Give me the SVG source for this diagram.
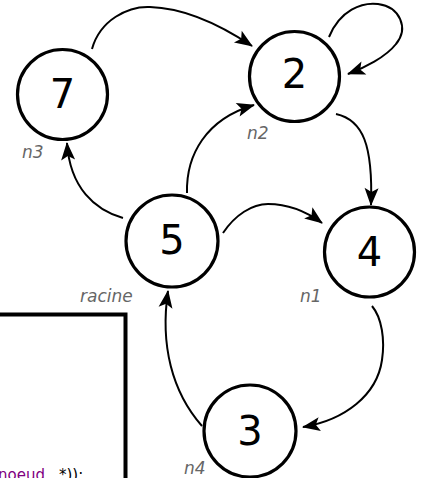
<svg xmlns="http://www.w3.org/2000/svg" width="421" height="478" viewBox="0 0 421 478">
<style>
.node circle{fill:#fff;stroke:#000;stroke-width:3.2}
.num{font-family:"DejaVu Sans",sans-serif;font-size:40px;fill:#000;text-anchor:middle}
.lbl{font-family:"DejaVu Sans",sans-serif;font-style:italic;font-size:17px;fill:#666}
.edge{fill:none;stroke:#000;stroke-width:2;marker-end:url(#arr)}
.code{font-family:"DejaVu Sans",sans-serif;font-size:15px}
</style>
<defs>
<marker id="arr" markerUnits="userSpaceOnUse" viewBox="-19 -9 21 18" markerWidth="21" markerHeight="18" refX="0" refY="0" orient="auto">
<path d="M1,0 L-17,-7 L-13,0 L-17,7 Z" fill="#000"/>
</marker>
</defs>
<g id="codebox">
<rect x="-10" y="314.5" width="135.5" height="200" fill="#fff" stroke="#000" stroke-width="4"/>
<text class="code" x="-2" y="480"><tspan fill="#800080">noeud</tspan><tspan x="59" fill="#000">*));</tspan></text>
</g>
<g id="connectors">
<path class="edge" d="M92,49 C100,20 128,6 150,7 C185,8 222,26 252,46"/>
<path class="edge" d="M329,37 C340,10 362,2 378,4 C400,7 409,28 396,44 C386,57 364,68 348,74"/>
<path class="edge" d="M336,114 C363,120 373,145 371,205"/>
<path class="edge" d="M187,193 C186,155 206,119 254,105"/>
<path class="edge" d="M123,218 C95,210 70,188 67,143"/>
<path class="edge" d="M223,233 C235,215 252,204 268,204 C289,204 307,212 322,223"/>
<path class="edge" d="M372,306 C382,318 385,340 382,360 C377,395 345,420 303,427"/>
<path class="edge" d="M202,426 C172,392 160,345 168,291"/>
</g>
<g id="node7" class="node"><circle cx="62.5" cy="94.5" r="45"/><text class="num" x="62.5" y="108">7</text><text class="lbl" x="22" y="158">n3</text></g>
<g id="node2" class="node"><circle cx="294.5" cy="76.5" r="45"/><text class="num" x="294.5" y="88">2</text><text class="lbl" x="247" y="139">n2</text></g>
<g id="node5" class="node"><circle cx="172" cy="241" r="46"/><text class="num" x="172" y="254">5</text><text class="lbl" x="80" y="302">racine</text></g>
<g id="node4" class="node"><circle cx="369.5" cy="252" r="45"/><text class="num" x="369.5" y="266">4</text><text class="lbl" x="300" y="302">n1</text></g>
<g id="node3" class="node"><circle cx="250" cy="431" r="46"/><text class="num" x="250" y="445">3</text><text class="lbl" x="184" y="474">n4</text></g>
</svg>
